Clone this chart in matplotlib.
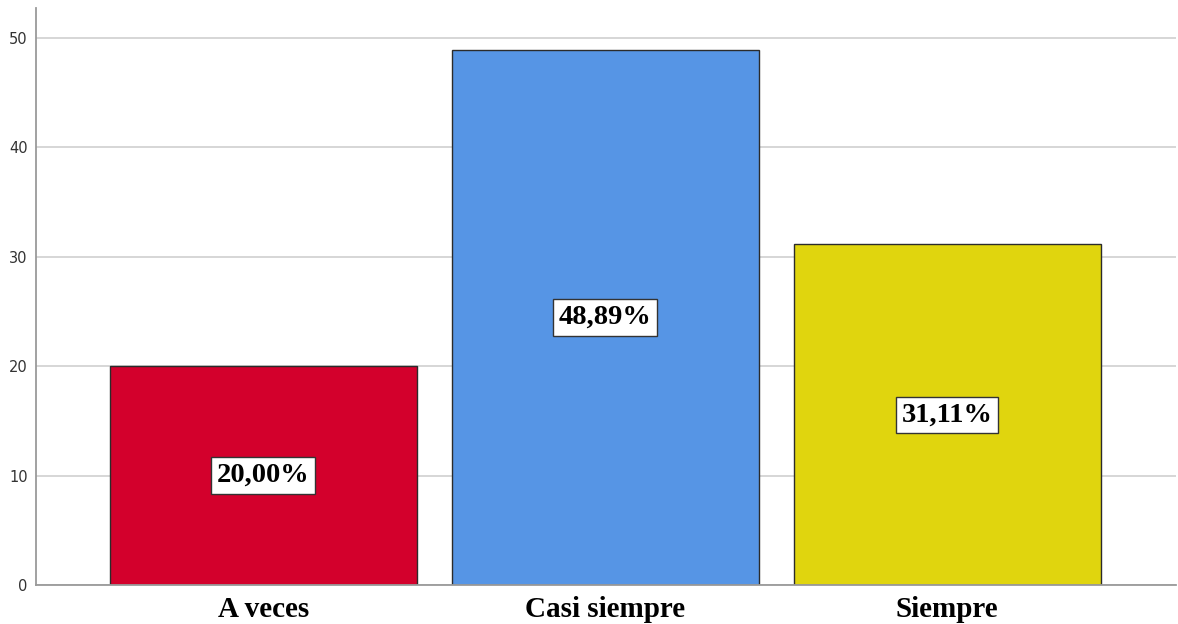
import matplotlib
matplotlib.use("Agg")
import matplotlib.pyplot as plt

categories = ["A veces", "Casi siempre", "Siempre"]
values = [20.00, 48.89, 31.11]
colors = ["#D3002C", "#5695E5", "#E0D50E"]
yticks = [0, 10, 20, 30, 40, 50]

fig = plt.figure(figsize=(11.78, 6.24), dpi=100)
ax = fig.add_axes([0.0306, 0.0625, 0.9674, 0.9245])

x = range(len(categories))
ax.set_axisbelow(True)
ax.yaxis.grid(True, color="#cfcfcf", linewidth=1.2)
ax.bar(x, values, width=0.898, color=colors, edgecolor="#2b2b2b", linewidth=1.0, zorder=2)

for xi, v in zip(x, values):
    ax.text(xi, v / 2, f"{v:.2f}%".replace(".", ","), ha="center", va="center",
            fontsize=20.5, fontweight="bold", family="Liberation Serif", color="black",
            bbox=dict(boxstyle="square,pad=0.2", facecolor="white", edgecolor="#333333", linewidth=1.0),
            zorder=3)

ax.set_xlim(-0.665, 2.668)
ax.set_ylim(0, 52.7)
ax.set_yticks(yticks)
ax.set_xticks(list(x))
ax.set_xticklabels(categories, fontsize=21, fontweight="bold", family="Liberation Serif")
ax.tick_params(axis="x", length=0, pad=8)
ax.tick_params(axis="y", length=0, labelsize=10.5, labelcolor="#333333", pad=6)

for side in ["top", "right"]:
    ax.spines[side].set_visible(False)
for side in ["left", "bottom"]:
    ax.spines[side].set_color("#9a9a9a")
    ax.spines[side].set_linewidth(1.3)

fig.savefig("out.png", dpi=100)
